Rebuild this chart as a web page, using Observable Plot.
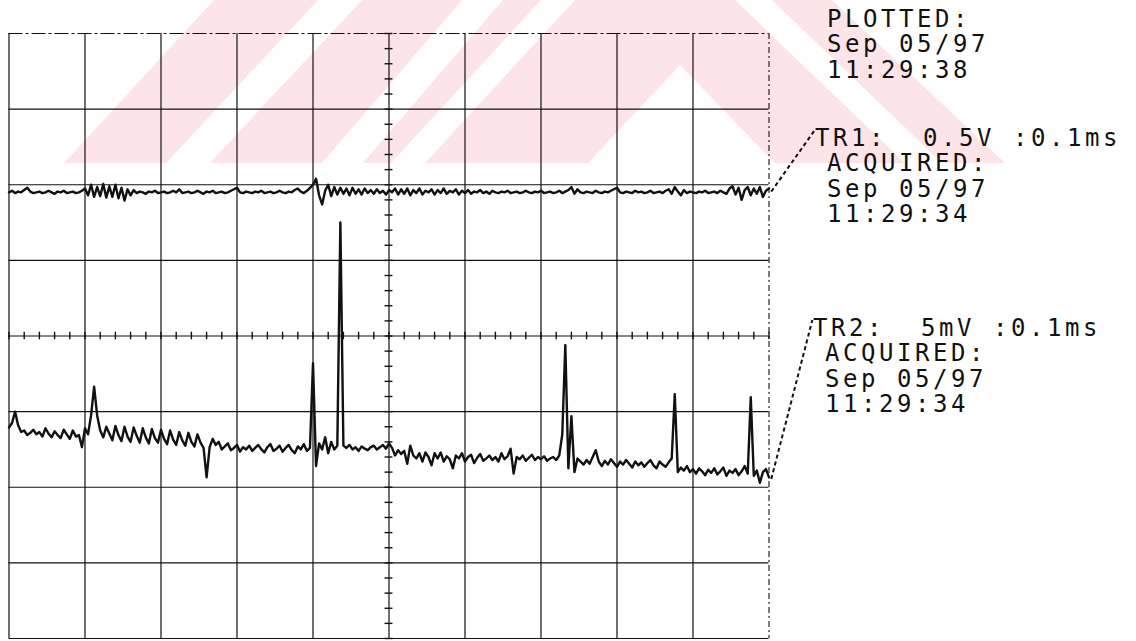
<!DOCTYPE html>
<html>
<head>
<meta charset="utf-8">
<script src="https://cdn.jsdelivr.net/npm/d3@7"></script>
<script src="https://cdn.jsdelivr.net/npm/@observablehq/plot@0.6"></script>
<style>
  html, body { margin: 0; padding: 0; background: #fff; }
  #wrap { position: relative; width: 1136px; height: 641px; overflow: hidden; }
  #wm { position: absolute; left: 0; top: 0; }
  #chart { position: absolute; left: 0; top: 0; }
  .lbl { position: absolute; font-family: "DejaVu Sans Mono", monospace; font-size: 24px;
         letter-spacing: 3.55px; line-height: 25.3px; color: #111; white-space: pre; }
</style>
</head>
<body>
<div id="wrap">
  <svg id="wm" width="1136" height="641">
    <polygon points="214,0 832,0 1005,163 64,163" fill="#fde4e8"/>
    <polygon points="318,0 362,0 210,163 166,163" fill="#fff"/>
    <polygon points="462,0 503,0 363,163 322,163" fill="#fff"/>
    <polygon points="541,0 575,0 425,163 391,163" fill="#fff"/>
    <polygon points="680,65 775,163 588,163" fill="#fff"/>
    <polygon points="735,0 772,0 942,163 905,163" fill="#fff"/>
  </svg>
  <div id="chart"></div>
  <div class="lbl" style="left:827px; top:7px;">PLOTTED:
Sep 05/97
11:29:38</div>
  <div class="lbl" style="left:827px; top:126px; text-indent:-12px;">TR1:  0.5V :0.1ms
ACQUIRED:
Sep 05/97
11:29:34</div>
  <div class="lbl" style="left:825px; top:316px; text-indent:-12px;">TR2:  5mV :0.1ms
ACQUIRED:
Sep 05/97
11:29:34</div>
</div>
<script>
// ---- Data (screen divisions; time in ms, 0.1 ms/div) ----
const sampleMs = 0.004; // acquisition sample interval

// Vertical grid divisions (time, ms) and horizontal divisions (screen div)
const gridTime = [0, 0.1, 0.2, 0.3, 0.4, 0.5, 0.6, 0.7, 0.8, 0.9, 1.0];
const gridDiv = [-4, -3, -2, -1, 0, 1, 2, 3, 4];

// TR1 (0.5 V/div), in divisions
const tr1 = [
  1.90,1.92,1.89,1.91,1.90,1.93,1.96,1.91,1.89,1.90,
  1.91,1.89,1.90,1.92,1.90,1.88,1.91,1.90,1.92,1.89,
  1.90,1.91,1.89,1.90,1.92,1.95,1.86,2.00,1.84,1.97,
  1.85,2.01,1.83,1.98,1.84,2.00,1.82,1.96,1.79,1.94,
  1.86,1.93,1.89,1.91,1.90,1.88,1.91,1.90,1.92,1.89,
  1.90,1.91,1.89,1.90,1.92,1.90,1.94,1.89,1.90,1.91,
  1.89,1.90,1.92,1.90,1.88,1.91,1.90,1.92,1.89,1.90,
  1.91,1.89,1.90,1.92,1.94,1.96,1.90,1.89,1.91,1.90,
  1.89,1.91,1.90,1.92,1.89,1.90,1.91,1.89,1.90,1.92,
  1.90,1.89,1.91,1.90,1.93,1.95,1.91,1.89,1.92,1.96,
  2.00,2.08,1.86,1.74,1.92,2.00,1.85,1.97,1.87,1.96,
  1.88,1.95,1.86,1.96,1.88,1.94,1.87,1.95,1.89,1.93,
  1.88,1.94,1.89,1.92,1.87,1.93,1.90,1.95,1.87,1.94,
  1.88,1.95,1.86,1.93,1.89,1.95,1.87,1.92,1.90,1.94,
  1.87,1.93,1.89,1.95,1.88,1.92,1.90,1.94,1.87,1.92,
  1.89,1.93,1.88,1.91,1.90,1.93,1.89,1.91,1.88,1.92,
  1.90,1.89,1.91,1.90,1.92,1.89,1.90,1.91,1.89,1.90,
  1.92,1.90,1.89,1.91,1.90,1.92,1.89,1.90,1.91,1.89,
  1.90,1.92,1.89,1.91,1.93,1.97,1.88,1.94,1.90,1.89,
  1.91,1.90,1.89,1.92,1.90,1.89,1.91,1.90,1.92,1.94,
  1.96,1.90,1.89,1.91,1.90,1.89,1.92,1.90,1.91,1.89,
  1.90,1.92,1.89,1.90,1.91,1.89,1.92,1.94,1.88,1.97,
  1.91,1.86,1.93,1.89,1.91,1.90,1.89,1.91,1.90,1.92,
  1.89,1.90,1.91,1.89,1.92,1.90,1.88,1.95,1.98,1.87,
  1.96,1.80,1.93,1.97,1.86,1.95,1.88,1.97,1.84,1.92,1.95
];

// TR2 (5 mV/div), in divisions
const tr2 = [
  -1.21,-1.15,-1.00,-1.18,-1.27,-1.25,-1.31,-1.28,-1.24,-1.30,
  -1.27,-1.33,-1.22,-1.29,-1.34,-1.26,-1.31,-1.35,-1.24,-1.30,
  -1.36,-1.25,-1.33,-1.31,-1.47,-1.22,-1.30,-1.05,-0.67,-1.05,
  -1.25,-1.34,-1.20,-1.29,-1.38,-1.19,-1.31,-1.39,-1.20,-1.33,
  -1.40,-1.21,-1.32,-1.41,-1.22,-1.34,-1.42,-1.23,-1.35,-1.41,
  -1.24,-1.36,-1.43,-1.25,-1.37,-1.44,-1.27,-1.38,-1.45,-1.28,
  -1.40,-1.46,-1.30,-1.41,-1.48,-1.87,-1.47,-1.36,-1.44,-1.40,
  -1.50,-1.46,-1.42,-1.51,-1.48,-1.44,-1.53,-1.47,-1.50,-1.45,
  -1.52,-1.48,-1.44,-1.50,-1.54,-1.47,-1.43,-1.52,-1.49,-1.45,
  -1.53,-1.48,-1.44,-1.51,-1.55,-1.46,-1.50,-1.43,-1.52,-1.48,
  -0.36,-1.72,-1.42,-1.50,-1.34,-1.55,-1.40,-1.50,-1.45,1.50,
  -1.45,-1.48,-1.44,-1.50,-1.47,-1.52,-1.46,-1.49,-1.51,-1.47,
  -1.45,-1.50,-1.47,-1.44,-1.49,-1.42,-1.48,-1.58,-1.51,-1.56,
  -1.52,-1.69,-1.45,-1.58,-1.62,-1.55,-1.66,-1.54,-1.60,-1.71,
  -1.55,-1.62,-1.54,-1.66,-1.59,-1.63,-1.75,-1.58,-1.62,-1.55,
  -1.66,-1.60,-1.57,-1.68,-1.61,-1.56,-1.65,-1.62,-1.58,-1.64,
  -1.60,-1.66,-1.55,-1.63,-1.59,-1.49,-1.82,-1.60,-1.63,-1.58,
  -1.65,-1.61,-1.57,-1.64,-1.60,-1.63,-1.59,-1.65,-1.62,-1.60,
  -1.64,-1.58,-1.30,-0.12,-1.75,-1.06,-1.80,-1.62,-1.66,-1.70,
  -1.64,-1.69,-1.60,-1.51,-1.66,-1.72,-1.65,-1.70,-1.63,-1.68,
  -1.73,-1.66,-1.70,-1.64,-1.69,-1.74,-1.66,-1.71,-1.67,-1.73,
  -1.68,-1.64,-1.71,-1.75,-1.66,-1.70,-1.73,-1.67,-1.62,-0.77,
  -1.80,-1.74,-1.78,-1.72,-1.80,-1.76,-1.82,-1.75,-1.79,-1.84,
  -1.77,-1.81,-1.75,-1.83,-1.79,-1.74,-1.85,-1.78,-1.81,-1.76,
  -1.84,-1.79,-1.72,-1.82,-0.81,-1.85,-1.78,-1.94,-1.80,-1.76,-1.87
];

// ---- Build tables ----
const trace1 = tr1.map((v, i) => ({t: i * sampleMs, v}));
const trace2 = tr2.map((v, i) => ({t: i * sampleMs, v}));
const minorTime = d3.range(0, 1.0001, 0.02);
const minorDiv = d3.range(-4, 4.0001, 0.2);

// Leader lines from trace ends to the channel labels (annotation anchors)
const leaders = [
  {x1: trace1[trace1.length - 1].t + 0.003, y1: tr1[tr1.length - 1] - 0.04, x2: 1.06, y2: 2.72},
  {x1: trace2[trace2.length - 1].t + 0.003, y1: tr2[tr2.length - 1] - 0.02, x2: 1.057, y2: 0.21}
];

const chart = Plot.plot({
  width: 1136,
  height: 641,
  marginLeft: 8.5,
  marginRight: 367.5,
  marginTop: 33,
  marginBottom: 3,
  style: {background: "transparent", overflow: "visible"},
  x: {domain: [0, 1], axis: null},
  y: {domain: [-4, 4], axis: null},
  marks: [
    Plot.ruleX(gridTime.filter(d => d < 1), {stroke: "#111", strokeWidth: 1.2}),
    Plot.ruleX([1], {stroke: "#111", strokeWidth: 1.1, strokeDasharray: "6,3,2,3"}),
    Plot.ruleY(gridDiv.filter(d => d < 4), {stroke: "#111", strokeWidth: 1.2}),
    Plot.ruleY([4], {stroke: "#111", strokeWidth: 1.2, strokeDasharray: "14,3,3,3"}),
    Plot.ruleX(minorTime, {y1: -0.05, y2: 0.05, stroke: "#111", strokeWidth: 1.4}),
    Plot.ruleY(minorDiv, {x1: 0.4948, x2: 0.5052, stroke: "#111", strokeWidth: 1.4}),
    Plot.line(trace1, {x: "t", y: "v", stroke: "#111", strokeWidth: 2.4, strokeLinejoin: "round"}),
    Plot.line(trace2, {x: "t", y: "v", stroke: "#111", strokeWidth: 2.4, strokeLinejoin: "round"}),
    Plot.link(leaders, {x1: "x1", y1: "y1", x2: "x2", y2: "y2", stroke: "#111",
      strokeWidth: 2, strokeDasharray: "4,3"})
  ]
});
document.getElementById("chart").appendChild(chart);
</script>
</body>
</html>
